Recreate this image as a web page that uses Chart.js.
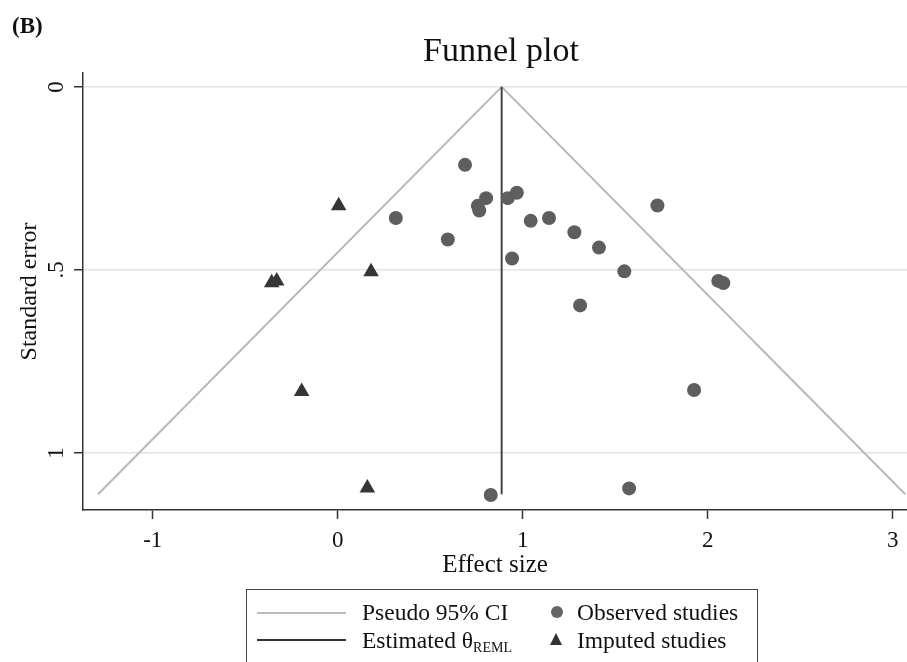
<!DOCTYPE html>
<html>
<head>
<meta charset="utf-8">
<script src="https://cdn.jsdelivr.net/npm/chart.js@4.4.1/dist/chart.umd.min.js"></script>
<style>
  body { margin: 0; background: #fff; overflow: hidden; }
  #wrap { position: relative; width: 907px; height: 662px; font-family: "Liberation Serif", "Times New Roman", serif; color: #111; }
  #chart { position: absolute; left: 0; top: 0; }
  #panel { position: absolute; left: 12px; top: 14px; font-size: 23px; line-height: 23px; font-weight: bold; }
  #title { position: absolute; left: 351px; top: 33px; width: 300px; text-align: center; font-size: 34px; line-height: 34px; }
  #legend { position: absolute; left: 246px; top: 589px; width: 512px; height: 90px; border: 1.5px solid #444; box-sizing: border-box; }
  .lg { position: absolute; font-size: 23.5px; line-height: 24px; white-space: nowrap; }
  .ln { position: absolute; width: 89px; height: 0; }
  .dot { position: absolute; width: 12px; height: 12px; border-radius: 50%; background: #666; }
  .tri { position: absolute; width: 0; height: 0; border-left: 6.5px solid transparent; border-right: 6.5px solid transparent; border-bottom: 12px solid #333; }
</style>
</head>
<body>
<div id="wrap">
  <canvas id="chart" width="907" height="662"></canvas>
  <div id="panel">(B)</div>
  <div id="title">Funnel plot</div>
  <div id="legend">
    <div class="ln" style="left:10px; top:22px; border-top:2px solid #bbb;"></div>
    <div class="lg" style="left:115px; top:10px;">Pseudo 95% CI</div>
    <div class="dot" style="left:304px; top:16px;"></div>
    <div class="lg" style="left:330px; top:10px;">Observed studies</div>
    <div class="ln" style="left:10px; top:49px; border-top:2px solid #333;"></div>
    <div class="lg" style="left:115px; top:38px;">Estimated θ<span style="font-size:14px; vertical-align:-4px;">REML</span></div>
    <div class="tri" style="left:303px; top:43px;"></div>
    <div class="lg" style="left:330px; top:38px;">Imputed studies</div>
  </div>
</div>
<script>
const FONT = '"Liberation Serif", "Times New Roman", serif';

// pooled estimate and largest standard error shown by the funnel
const theta = 0.886;
const seMax = 1.113;

const obsEffect = [0.688, 0.802, 0.757, 0.765, 0.919, 0.968, 0.314, 0.595, 1.043, 1.142, 1.279,
                   1.412, 0.942, 1.549, 1.310, 1.728, 2.057, 2.084, 1.926, 1.575, 0.827];
const obsSE     = [0.213, 0.304, 0.325, 0.338, 0.304, 0.289, 0.358, 0.417, 0.366, 0.358, 0.397,
                   0.439, 0.469, 0.504, 0.597, 0.324, 0.530, 0.536, 0.828, 1.097, 1.115];

const impEffect = [0.005, 0.180, -0.357, -0.330, -0.195, 0.160];
const impSE     = [0.325, 0.505, 0.535, 0.530, 0.832, 1.096];

const xTicks = [-1, 0, 1, 2, 3];
const yTicks = [0, 0.5, 1];
const yTickText = ['0', '.5', '1'];

const observed = obsEffect.map((x, i) => ({ x: x, y: obsSE[i] }));
const imputed = impEffect.map((x, i) => ({ x: x, y: impSE[i] }));
const funnel = [
    { x: theta - 1.96 * seMax, y: seMax },
    { x: theta, y: 0 },
    { x: theta + 1.96 * seMax, y: seMax }
];
const thetaLine = [{ x: theta, y: 0 }, { x: theta, y: seMax }];

// y tick labels are rotated in the original, chart.js can't rotate them on a vertical axis
const yTickLabels = {
    id: 'yTickLabels',
    afterDraw(chart) {
        const ctx = chart.ctx;
        const sy = chart.scales.y;
        ctx.save();
        ctx.font = '23px ' + FONT;
        ctx.fillStyle = '#111';
        ctx.textAlign = 'center';
        ctx.textBaseline = 'alphabetic';
        yTicks.forEach((v, i) => {
            ctx.save();
            ctx.translate(63, sy.getPixelForValue(v));
            ctx.rotate(-Math.PI / 2);
            ctx.fillText(yTickText[i], 0, 0);
            ctx.restore();
        });
        ctx.restore();
    }
};

new Chart(document.getElementById('chart'), {
    type: 'scatter',
    data: {
        datasets: [
            {
                label: 'Observed studies',
                data: observed,
                pointStyle: 'circle',
                pointRadius: 7,
                backgroundColor: '#5e5e5e',
                borderWidth: 0,
                order: 1
            },
            {
                label: 'Imputed studies',
                data: imputed,
                pointStyle: 'triangle',
                pointRadius: 9,
                backgroundColor: '#353535',
                borderWidth: 0,
                order: 0
            },
            {
                label: 'Pseudo 95% CI',
                type: 'line',
                data: funnel,
                borderColor: '#b8b8b8',
                borderWidth: 2,
                pointRadius: 0,
                fill: false,
                order: 3
            },
            {
                label: 'Estimated theta',
                type: 'line',
                data: thetaLine,
                borderColor: '#444',
                borderWidth: 2,
                pointRadius: 0,
                fill: false,
                order: 2
            }
        ]
    },
    options: {
        responsive: false,
        animation: false,
        devicePixelRatio: 1,
        layout: { autoPadding: false, padding: { top: 73, left: 0, right: 0, bottom: 0 } },
        plugins: {
            legend: { display: false },
            tooltip: { enabled: false },
            title: { display: false }
        },
        scales: {
            x: {
                type: 'linear',
                min: -1.377,
                max: 3.077,
                afterBuildTicks: s => { s.ticks = xTicks.map(v => ({ value: v })); },
                afterFit: s => { s.height = 152; },
                ticks: {
                    font: { family: FONT, size: 23 },
                    color: '#111',
                    padding: 8,
                    maxRotation: 0,
                    autoSkip: false
                },
                grid: { drawOnChartArea: false, tickLength: 9, tickColor: '#333', tickWidth: 1.5 },
                border: { color: '#333', width: 1.5 },
                title: {
                    display: true,
                    text: 'Effect size',
                    font: { family: FONT, size: 25 },
                    color: '#111',
                    padding: { top: 0, bottom: 82 }
                }
            },
            y: {
                type: 'linear',
                reverse: true,
                min: -0.038,
                max: 1.156,
                afterBuildTicks: s => { s.ticks = yTicks.map(v => ({ value: v })); },
                afterFit: s => { s.width = 83; },
                ticks: { display: false },
                grid: { color: '#e3e3e3', lineWidth: 1.5, tickLength: 9, tickColor: '#333', tickWidth: 1.5 },
                border: { color: '#333', width: 1.5 },
                title: {
                    display: true,
                    text: 'Standard error',
                    font: { family: FONT, size: 24 },
                    color: '#111',
                    padding: { top: 15, bottom: 0 }
                }
            }
        }
    },
    plugins: [yTickLabels]
});
</script>
</body>
</html>
